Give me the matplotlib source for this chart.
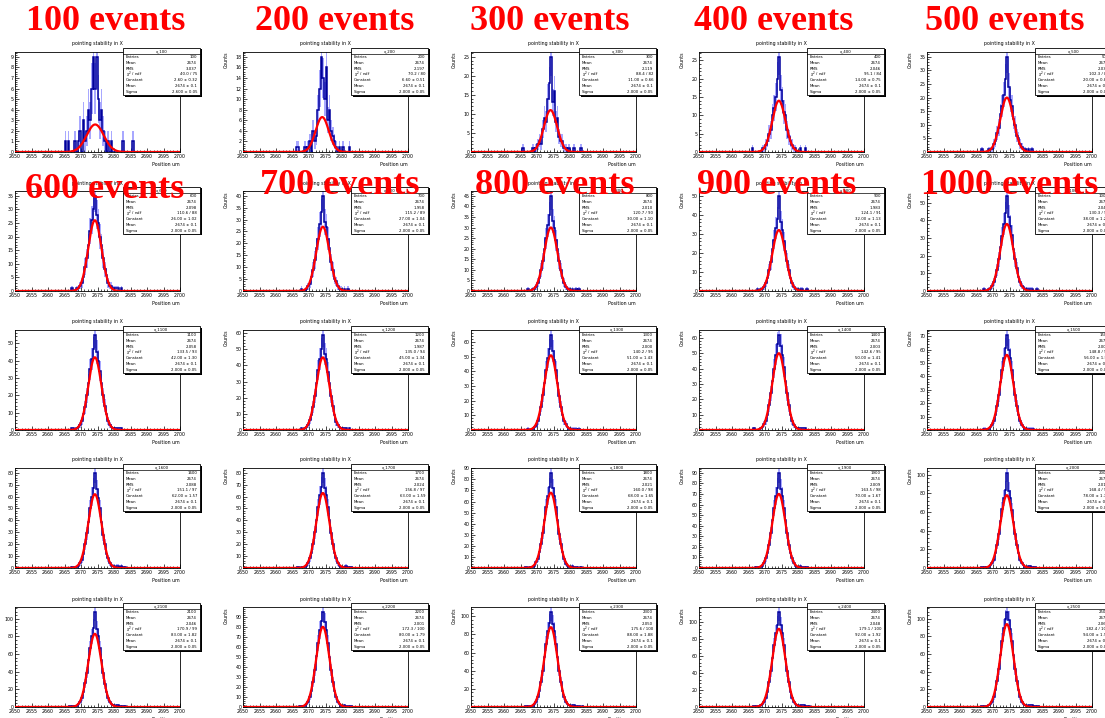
import numpy as np
import matplotlib
matplotlib.use("Agg")
import matplotlib.pyplot as plt
from matplotlib.ticker import MultipleLocator, MaxNLocator, AutoMinorLocator
from matplotlib.patches import Rectangle

# ---------------------------------------------------------------------------
# Data: pointing stability in X, accumulated event samples
# ---------------------------------------------------------------------------
events = [100, 200, 300, 400, 500, 600, 700, 800, 900, 1000,
          1100, 1200, 1300, 1400, 1500, 1600, 1700, 1800, 1900, 2000,
          2100, 2200, 2300, 2400, 2500]
labelled_events = events[:10]

x_min, x_max = 2650, 2700
hist_lo = 2664.0          # lower edge of first filled bin
bin_width = 0.5

counts_100 = [0,0,1,0,1,0,0,0, 1,0,1,2,0,3,1,2,4,3,6,9,6,9,5,3,4,2,1,0,1,0,1,0,0, 0,0,0,0,1,0,0,0,0,0,1,0,0,0,0]
counts_200 = [0,0,0,0,1,1,0,0, 0,1,0,1,2,0,4,2,3,8,12,18,14,10,16,6,8,4,3,2,1,0,1,0,1, 0,0,0,1,0,0,0,0,0,0,0,0,0,0,0]
counts_300 = [0,0,0,1,0,0,0,0, 0,1,0,1,2,3,2,6,9,8,14,18,25,13,16,8,9,4,3,3,1,1,0,1,0, 0,1,0,0,0,1,0,0,0,0,0,0,0,0,0]
counts_400 = [0,0,0,0,1,0,0,0, 0,0,1,1,2,3,5,6,10,12,15,20,26,17,14,11,10,6,4,3,2,1,1,0,0, 1,0,0,1,0,0,0,0,0,0,0,0,0,0,0]
counts_500 = [0,0,0,0,0,1,0,0, 0,1,1,1,3,4,7,9,14,17,21,27,35,24,19,17,12,10,6,5,3,2,1,1,0, 1,0,1,0,0,0,0,0,0,0,0,0,0,0,0]
counts_600 = [0,0,0,0,0,0,1,0, 0,1,1,2,3,5,9,12,17,22,26,30,35,28,25,20,17,12,8,6,3,2,2,1,1, 1,1,0,1,0,0,0,0,0,0,0,0,0,0,0]
counts_700 = [0,0,0,0,0,0,0,1, 0,0,1,2,3,6,9,13,18,22,28,33,40,29,27,22,18,12,9,5,4,2,1,1,0, 1,0,1,0,0,0,0,0,0,0,0,0,0,0,0]
counts_800 = [0,0,0,0,0,0,1,0, 0,1,1,2,4,6,10,14,20,25,31,36,45,33,30,24,20,14,10,6,4,2,1,1,0, 1,0,1,0,1,0,0,0,0,0,0,0,0,0,0]
counts_900 = [0,0,0,0,0,0,0,1, 0,1,1,2,4,7,11,15,22,27,33,38,50,36,32,26,21,16,11,7,4,2,1,1,0, 1,1,0,0,1,0,0,0,0,0,0,0,0,0,0]
counts_1000 = [0,0,0,0,0,0,1,0, 0,1,1,3,5,8,12,18,25,31,38,44,54,42,37,32,24,18,13,8,5,3,2,1,1, 1,1,1,0,0,1,0,0,0,0,0,0,0,0,0]
counts_1100 = [0,0,0,0,0,0,1,1, 0,1,2,3,5,9,13,20,27,35,41,47,55,45,40,34,27,20,14,9,5,3,2,1,1, 1,1,1,1,0,0,0,0,0,0,0,0,0,0,0]
counts_1200 = [0,0,0,0,0,0,0,1, 0,1,2,3,6,9,14,21,29,37,44,50,59,47,44,36,29,21,15,9,5,3,2,1,1, 1,1,0,1,0,0,0,0,0,0,0,0,0,0,0]
counts_1300 = [0,0,0,0,0,0,1,0, 0,1,2,3,6,10,16,24,32,41,49,55,65,54,48,41,32,23,16,10,6,4,2,1,1, 1,1,1,0,1,0,0,0,0,0,0,0,0,0,0]
counts_1400 = [0,0,0,0,0,1,0,0, 0,1,2,4,6,10,16,24,32,40,49,56,62,55,49,41,32,24,16,10,6,3,2,1,1, 1,1,1,1,0,0,0,0,0,0,0,0,0,0,0]
counts_1500 = [0,0,0,0,0,0,1,1, 0,1,2,4,7,11,18,26,36,45,54,61,71,60,54,45,36,26,18,11,7,4,2,1,1, 1,1,1,1,0,0,0,0,0,0,0,0,0,0,0]
counts_1600 = [0,0,0,0,0,0,1,1, 0,1,2,4,7,12,20,29,39,50,60,67,80,66,59,50,39,28,20,12,8,4,2,2,1, 2,2,1,2,1,1,0,0,0,0,0,0,0,0,0]
counts_1700 = [0,0,0,0,0,1,0,1, 0,1,2,4,8,13,20,30,40,51,61,68,80,67,61,51,40,29,20,13,8,4,2,1,1, 1,2,1,1,1,0,0,0,0,0,0,0,0,0,0]
counts_1800 = [0,0,0,0,0,1,0,1, 1,1,2,5,8,14,22,32,43,55,65,73,86,72,65,55,43,31,22,14,8,4,2,1,1, 2,1,1,1,0,1,0,0,0,0,0,0,0,0,0]
counts_1900 = [0,0,0,0,0,0,1,1, 1,1,2,5,9,14,22,33,45,57,68,76,90,75,68,57,45,33,22,14,9,5,2,1,1, 2,1,1,1,1,0,0,0,0,0,0,0,0,0,0]
counts_2000 = [0,0,0,0,0,1,1,0, 1,1,3,5,9,16,25,36,50,63,75,84,102,83,75,62,49,36,25,16,9,5,3,1,1, 2,2,1,1,1,0,0,0,0,0,0,0,0,0,0]
counts_2100 = [0,0,0,0,0,1,1,1, 1,1,3,6,10,17,27,39,53,67,80,90,108,88,80,67,53,38,26,17,10,6,3,2,1, 2,2,1,1,1,1,0,0,0,0,0,0,0,0,0]
counts_2200 = [0,0,0,0,0,0,1,1, 1,1,3,5,10,16,25,37,51,64,77,86,95,85,77,64,50,37,25,16,10,5,3,1,1, 2,1,1,1,1,0,0,0,0,0,0,0,0,0,0]
counts_2300 = [0,0,0,0,0,1,1,1, 1,1,3,6,11,18,28,40,55,70,84,93,105,92,84,70,55,40,28,18,11,6,3,2,1, 2,2,1,1,1,0,1,0,0,0,0,0,0,0,0]
counts_2400 = [0,0,0,0,0,1,1,1, 1,2,3,6,11,18,29,42,58,73,87,97,112,96,87,73,57,42,29,18,11,6,3,2,1, 2,2,2,1,1,1,0,0,0,0,0,0,0,0,0]
counts_2500 = [0,0,0,0,0,1,1,1, 1,2,3,6,11,19,30,43,59,75,90,100,108,99,89,75,59,43,30,19,11,6,3,2,1, 2,2,2,1,1,1,1,0,0,0,0,0,0,0,0]

# Gaussian fit results per sample
fit_const = [2.6, 6.6, 11, 14, 20, 26, 27, 30, 32, 38,
             42, 45, 51, 50, 56, 62, 63, 68, 70, 78,
             83, 80, 88, 92, 94]
fit_mean = [2674.3, 2674.0, 2674.1, 2674.2, 2674.2, 2674.2, 2674.2, 2674.2, 2674.2, 2674.2,
            2674.2, 2674.2, 2674.2, 2674.2, 2674.2, 2674.2, 2674.2, 2674.2, 2674.2, 2674.2,
            2674.2, 2674.2, 2674.2, 2674.2, 2674.2]
fit_sigma = [2.6, 2.0, 2.0, 2.0, 2.0, 2.0, 2.0, 2.0, 2.0, 2.0,
             2.0, 2.0, 2.0, 2.0, 2.0, 2.0, 2.0, 2.0, 2.0, 2.0,
             2.0, 2.0, 2.0, 2.0, 2.0]
chi2_ndf = ["40.0 / 75", "70.2 / 80", "88.4 / 82", "95.1 / 84", "102.3 / 86",
            "110.6 / 88", "115.2 / 89", "120.7 / 90", "124.1 / 91", "130.3 / 92",
            "133.5 / 93", "135.0 / 94", "140.2 / 95", "142.6 / 95", "148.8 / 96",
            "151.1 / 97", "156.8 / 97", "160.0 / 98", "163.5 / 98", "168.4 / 99",
            "170.9 / 99", "172.3 / 100", "175.6 / 100", "179.1 / 100", "182.4 / 101"]

all_counts = [counts_100, counts_200, counts_300, counts_400, counts_500,
              counts_600, counts_700, counts_800, counts_900, counts_1000,
              counts_1100, counts_1200, counts_1300, counts_1400, counts_1500,
              counts_1600, counts_1700, counts_1800, counts_1900, counts_2000,
              counts_2100, counts_2200, counts_2300, counts_2400, counts_2500]

# ---------------------------------------------------------------------------
# Figure layout (pixel based)
# ---------------------------------------------------------------------------
W, H = 1105, 718
fig = plt.figure(figsize=(W / 100, H / 100), dpi=100)
fig.patch.set_facecolor("white")

def fx(px):
    return px / W

def fy(py):
    return 1 - py / H

col_left = [15, 243, 471, 699, 927]
row_top = [52, 191, 330, 468, 607]
pw, ph = 165, 100
small = 3.4
dark_blue = "#00009c"
light_blue = "#6f6fff"

label_pos = [(106, 22), (335, 22), (550, 22), (774, 22), (1005, 22),
             (105, 190), (340, 185), (555, 185), (777, 185), (1010, 185)]

for i, n in enumerate(events):
    r, c = divmod(i, 5)
    left, top = col_left[c], row_top[r]
    ax = fig.add_axes([fx(left), fy(top + ph), pw / W, ph / H])

    counts = np.asarray(all_counts[i], dtype=float)
    edges = hist_lo + bin_width * np.arange(len(counts) + 1)
    centers = 0.5 * (edges[:-1] + edges[1:])
    err = np.sqrt(counts)

    ax.bar(edges[:-1], 2 * err, bottom=counts - err, width=bin_width, align="edge",
           color=light_blue, alpha=0.6, linewidth=0, zorder=1)
    ax.stairs(counts, edges, color=dark_blue, lw=1.1, zorder=2)

    xs = np.linspace(x_min, x_max, 800)
    ys = fit_const[i] * np.exp(-0.5 * ((xs - fit_mean[i]) / fit_sigma[i]) ** 2)
    ax.plot(xs, ys, color="red", lw=1.6, zorder=3)

    ax.set_xlim(x_min, x_max)
    ax.set_ylim(0, 1.05 * counts.max())
    ax.xaxis.set_major_locator(MultipleLocator(5))
    ax.xaxis.set_minor_locator(MultipleLocator(1))
    ax.yaxis.set_major_locator(MaxNLocator(nbins=10, steps=[1, 2, 5, 10]))
    ax.yaxis.set_minor_locator(AutoMinorLocator(5))
    ax.tick_params(which="both", direction="in", top=False, right=False,
                   labelsize=small, pad=1.2, width=0.5, colors="black")
    ax.tick_params(which="major", length=3)
    ax.tick_params(which="minor", length=1.5)
    for sp in ax.spines.values():
        sp.set_linewidth(0.6)

    cx = left + pw / 2
    fig.text(fx(cx), fy(top - 8), "pointing stability in X", fontsize=small,
             ha="center", va="center")
    if c > 0:
        fig.text(fx(left - 17), fy(top), "Counts", fontsize=small, rotation=90,
                 ha="center", va="top")
    fig.text(fx(left + pw), fy(top + ph + 10), "Position um", fontsize=small,
             ha="right", va="top")

    # statistics box
    bx, by, bw, bh = left + 108, top - 4, 77, 47
    fig.patches.append(Rectangle((fx(bx + 1.5), fy(by + bh + 1.5)), bw / W, bh / H,
                                 transform=fig.transFigure, facecolor="black",
                                 edgecolor="none", zorder=5))
    fig.patches.append(Rectangle((fx(bx), fy(by + bh)), bw / W, bh / H,
                                 transform=fig.transFigure, facecolor="white",
                                 edgecolor="black", lw=0.6, zorder=6))
    rh = bh / 8
    fig.lines.append(plt.Line2D([fx(bx), fx(bx + bw)], [fy(by + rh), fy(by + rh)],
                                transform=fig.transFigure, color="black", lw=0.5,
                                zorder=7))
    mean = np.sum(counts * centers) / counts.sum()
    rms = np.sqrt(np.sum(counts * (centers - mean) ** 2) / counts.sum())
    rows = [("Entries", f"{n}"),
            ("Mean", f"{mean:.0f}"),
            ("RMS", f"{rms:.3f}"),
            (r"$\chi^2$ / ndf", chi2_ndf[i]),
            ("Constant", f"{fit_const[i]:.2f} ± {np.sqrt(fit_const[i]) * 0.2:.2f}"),
            ("Mean", f"{fit_mean[i]:.0f} ± 0.1"),
            ("Sigma", f"{fit_sigma[i]:.3f} ± 0.05")]
    fig.text(fx(bx + bw / 2), fy(by + rh / 2), f"x_{n}", fontsize=small - 0.6,
             ha="center", va="center", zorder=8)
    for k, (name, val) in enumerate(rows):
        yy = by + rh * (k + 1.5)
        fig.text(fx(bx + 3), fy(yy), name, fontsize=small - 0.6, ha="left",
                 va="center", zorder=8)
        fig.text(fx(bx + bw - 3), fy(yy), val, fontsize=small - 0.6, ha="right",
                 va="center", zorder=8)

for n, (lx, ly) in zip(labelled_events, label_pos):
    fig.text(fx(lx), fy(ly), f"{n} events", color="red", fontsize=26,
             fontfamily="Liberation Serif", fontweight="bold",
             ha="center", va="center", zorder=20)

fig.savefig("out.png", dpi=100, facecolor="white")
